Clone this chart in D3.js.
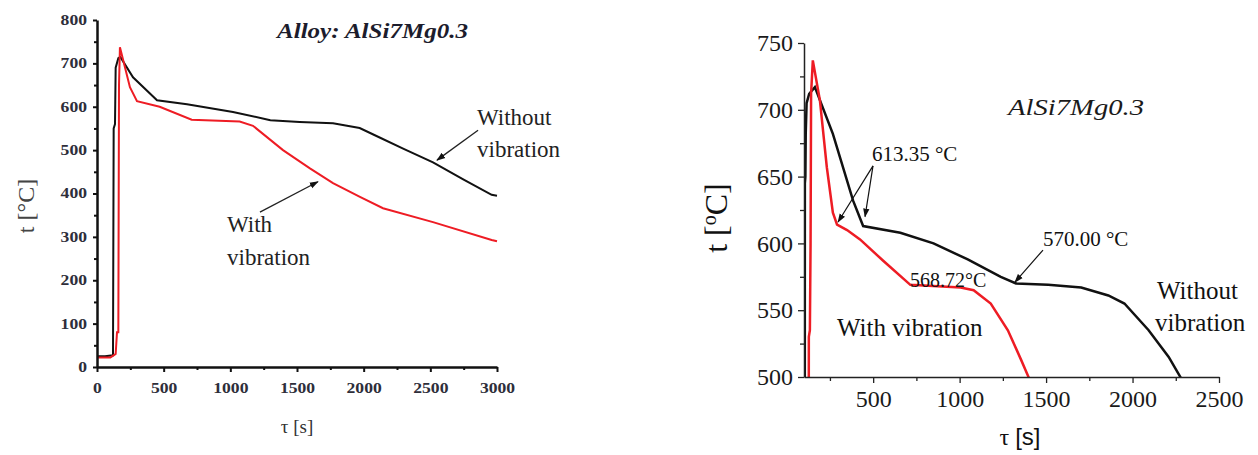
<!DOCTYPE html>
<html>
<head>
<meta charset="utf-8">
<script src="https://cdn.jsdelivr.net/npm/d3@7"></script>
<style>
  html, body { margin: 0; padding: 0; background: #fff; }
  svg { display: block; }
</style>
</head>
<body>
<script>
// ---------------- DATA ----------------
// Left chart: full cooling curves (time s, temperature °C)
const leftTimeNoVib = [0, 60, 120, 125, 135, 140, 160, 175, 270, 450, 675, 1020, 1300, 1520, 1770, 1970, 2100, 2300, 2520, 2750, 2960, 3000];
const leftTempNoVib = [25, 25, 27, 550, 560, 690, 712, 715, 668, 615, 606, 588, 569, 565, 562, 551, 532, 503, 472, 432, 397, 395];
const leftTimeVib   = [0, 100, 130, 140, 150, 160, 165, 172, 182, 247, 300, 470, 710, 1070, 1170, 1395, 1597, 1770, 1972, 2145, 2520, 2960, 3000];
const leftTempVib   = [22, 22, 28, 30, 80, 80, 650, 737, 725, 645, 613, 600, 570, 566, 556, 500, 458, 424, 392, 366, 334, 293, 290];

// Right chart: zoom on solidification range
const rightTimeNoVib = [100, 104, 105, 108, 110, 115, 130, 163, 267, 384, 442, 657, 849, 1047, 1238, 1326, 1512, 1703, 1860, 1953, 2093, 2209, 2290];
const rightTempNoVib = [300, 300, 645, 650, 682, 705, 712, 717, 682, 632, 613, 608, 600, 588, 575, 570, 569, 567, 561, 555, 535, 515, 497];
const rightTimeVib   = [100, 126, 128, 134, 138, 141, 151, 192, 232, 267, 291, 349, 424, 558, 715, 1006, 1081, 1180, 1279, 1355, 1405];
const rightTempVib   = [300, 300, 530, 535, 600, 712, 737, 707, 657, 623, 614, 610, 603, 587, 569, 567, 565, 555, 535, 513, 498];

// Tick values
const leftXTicks = [0, 500, 1000, 1500, 2000, 2500, 3000];
const leftXMinor = [250, 750, 1250, 1750, 2250, 2750];
const leftYTicks = [0, 100, 200, 300, 400, 500, 600, 700, 800];
const leftYMinor = [50, 150, 250, 350, 450, 550, 650, 750];
const rightXTicks = [500, 1000, 1500, 2000, 2500];
const rightXMinor = [250, 750, 1250, 1750, 2250];
const rightYTicks = [500, 550, 600, 650, 700, 750];
const rightYMinor = [525, 575, 625, 675, 725];

// Texts
const leftTitle = "Alloy: AlSi7Mg0.3";
const rightTitle = "AlSi7Mg0.3";

// ---------------- DRAW ----------------
const RED = "#ee1c24", BLACK = "#111";
const SERIF = "Liberation Serif";
const SANS = "Liberation Sans";
const fmt = d3.format("d");

const svg = d3.select("body").append("svg")
  .attr("width", 1258).attr("height", 455)
  .attr("font-family", SERIF);

const defs = svg.append("defs");
function marker(id, size) {
  defs.append("marker").attr("id", id)
    .attr("viewBox", "0 0 10 10").attr("refX", 9).attr("refY", 5)
    .attr("markerWidth", size).attr("markerHeight", size)
    .attr("orient", "auto").attr("markerUnits", "userSpaceOnUse")
    .append("path").attr("d", "M0,1.5 L10,5 L0,8.5 Z").attr("fill", BLACK);
}
marker("arrL", 9);
marker("arrR", 9);

// ===== LEFT CHART =====
const xL = d3.scaleLinear().domain([0, 3000]).range([97, 497]);
const yL = d3.scaleLinear().domain([0, 800]).range([367, 20]);
const gL = svg.append("g");

const lineL = d3.line().x(d => xL(d[0])).y(d => yL(d[1]));
gL.append("path").datum(d3.zip(leftTimeNoVib, leftTempNoVib))
  .attr("d", lineL).attr("fill", "none").attr("stroke", BLACK).attr("stroke-width", 2);
gL.append("path").datum(d3.zip(leftTimeVib, leftTempVib))
  .attr("d", lineL).attr("fill", "none").attr("stroke", RED).attr("stroke-width", 2);

function styleLeftAxis(g) {
  g.attr("font-family", SERIF);
  g.select(".domain").attr("stroke", BLACK).attr("stroke-width", 2.5);
  g.selectAll(".tick line").attr("stroke", BLACK).attr("stroke-width", 2);
  g.selectAll(".tick text")
    .attr("font-family", SERIF)
    .attr("fill", "#2e2e3a").attr("font-weight", "bold")
    .attr("font-size", 14)
    .attr("textLength", d => fmt(d).length * 8.8)
    .attr("lengthAdjust", "spacingAndGlyphs");
}
gL.append("g").attr("transform", `translate(0,${yL(0)})`)
  .call(d3.axisBottom(xL).tickValues(leftXMinor).tickSize(3).tickFormat("").tickSizeOuter(0))
  .call(g => { g.select(".domain").remove(); g.selectAll("line").attr("stroke", BLACK).attr("stroke-width", 2); });
gL.append("g").attr("transform", `translate(0,${yL(0)})`)
  .call(d3.axisBottom(xL).tickValues(leftXTicks).tickFormat(fmt).tickSize(5).tickPadding(11).tickSizeOuter(0))
  .call(styleLeftAxis);
gL.append("g").attr("transform", `translate(${xL(0)},0)`)
  .call(d3.axisLeft(yL).tickValues(leftYMinor).tickSize(3).tickFormat("").tickSizeOuter(0))
  .call(g => { g.select(".domain").remove(); g.selectAll("line").attr("stroke", BLACK).attr("stroke-width", 2); });
gL.append("g").attr("transform", `translate(${xL(0)},0)`)
  .call(d3.axisLeft(yL).tickValues(leftYTicks).tickFormat(fmt).tickSize(4).tickPadding(6).tickSizeOuter(0))
  .call(styleLeftAxis);

// Left title & labels
gL.append("text").attr("x", xL(1350)).attr("y", yL(758)).attr("font-family", SERIF)
  .attr("font-size", 21).attr("font-weight", "bold").attr("font-style", "italic")
  .attr("fill", "#1c1c2c").attr("textLength", 191).attr("lengthAdjust", "spacingAndGlyphs")
  .text(leftTitle);
gL.append("text").attr("transform", "translate(34,206) rotate(-90)").attr("font-family", SERIF)
  .attr("text-anchor", "middle").attr("font-size", 24).attr("fill", "#444")
  .text("t [°C]");
gL.append("text").attr("x", 297).attr("y", 433).attr("text-anchor", "middle").attr("font-family", SERIF)
  .attr("font-size", 19).attr("fill", "#333").text("τ [s]");

// Left annotations
const annL = [
  { lines: ["Without", "vibration"], t: 2850, temps: [557, 484], from: [2858, 546], to: [2550, 477] },
  { lines: ["With", "vibration"], t: 975, temps: [311, 235], from: [1222, 357], to: [1657, 427] }
];
annL.forEach(a => {
  a.lines.forEach((s, i) => {
    gL.append("text").attr("x", xL(a.t)).attr("y", yL(a.temps[i])).attr("font-family", SERIF)
      .attr("font-size", 23).attr("fill", "#222").text(s);
  });
  gL.append("line")
    .attr("x1", xL(a.from[0])).attr("y1", yL(a.from[1]))
    .attr("x2", xL(a.to[0])).attr("y2", yL(a.to[1]))
    .attr("stroke", "#222").attr("stroke-width", 1.3).attr("marker-end", "url(#arrL)");
});

// ===== RIGHT CHART =====
const xR = d3.scaleLinear().domain([100, 2500]).range([804, 1219]);
const yR = d3.scaleLinear().domain([500, 750]).range([377, 43]);
const gR = svg.append("g");

defs.append("clipPath").attr("id", "clipR").append("rect")
  .attr("x", xR(100)).attr("y", yR(750) - 5)
  .attr("width", xR(2500) - xR(100) + 5).attr("height", yR(500) - yR(750) + 5);

const lineR = d3.line().x(d => xR(d[0])).y(d => yR(d[1]));
const plotR = gR.append("g").attr("clip-path", "url(#clipR)");
plotR.append("path").datum(d3.zip(rightTimeNoVib, rightTempNoVib))
  .attr("d", lineR).attr("fill", "none").attr("stroke", BLACK).attr("stroke-width", 2.5);
plotR.append("path").datum(d3.zip(rightTimeVib, rightTempVib))
  .attr("d", lineR).attr("fill", "none").attr("stroke", RED).attr("stroke-width", 2.5);

function styleRightAxis(g) {
  g.attr("font-family", SERIF);
  g.select(".domain").attr("stroke", "#222").attr("stroke-width", 1.5);
  g.selectAll(".tick line").attr("stroke", "#222").attr("stroke-width", 1.3);
  g.selectAll(".tick text").attr("font-family", SERIF).attr("fill", "#1a1a1a").attr("font-size", 24);
}
gR.append("g").attr("transform", `translate(0,${yR(500)})`)
  .call(d3.axisBottom(xR).tickValues(rightXMinor).tickSize(4).tickFormat("").tickSizeOuter(0))
  .call(g => { g.select(".domain").remove(); g.selectAll("line").attr("stroke", "#222").attr("stroke-width", 1.3); });
gR.append("g").attr("transform", `translate(0,${yR(500)})`)
  .call(d3.axisBottom(xR).tickValues(rightXTicks).tickFormat(fmt).tickSize(6).tickPadding(7).tickSizeOuter(0))
  .call(styleRightAxis);
gR.append("g").attr("transform", `translate(${xR(100)},0)`)
  .call(d3.axisLeft(yR).tickValues(rightYMinor).tickSize(4).tickFormat("").tickSizeOuter(0))
  .call(g => { g.select(".domain").remove(); g.selectAll("line").attr("stroke", "#222").attr("stroke-width", 1.3); });
gR.append("g").attr("transform", `translate(${xR(100)},0)`)
  .call(d3.axisLeft(yR).tickValues(rightYTicks).tickFormat(fmt).tickSize(6).tickPadding(5).tickSizeOuter(0))
  .call(styleRightAxis);

// Right title and labels
gR.append("text").attr("x", xR(1280)).attr("y", yR(696)).attr("font-family", SERIF)
  .attr("font-size", 23).attr("font-style", "italic").attr("fill", "#1a1a1a")
  .attr("textLength", 136).attr("lengthAdjust", "spacingAndGlyphs")
  .text(rightTitle);

const yLab = gR.append("text").attr("transform", "translate(727,218) rotate(-90)").attr("font-family", SERIF)
  .attr("text-anchor", "middle").attr("font-size", 32).attr("fill", "#111");
yLab.append("tspan").text("t [");
yLab.append("tspan").attr("font-size", 20).attr("dy", -11).text("o");
yLab.append("tspan").attr("dy", 11).text("C]");

const xLab = gR.append("text").attr("x", 1020).attr("y", 445).attr("text-anchor", "middle").attr("font-family", SERIF)
  .attr("font-size", 24).attr("fill", "#111");
xLab.append("tspan").text("τ ");
xLab.append("tspan").attr("font-family", SANS).text("[s]");

// Right annotations
const annR = [
  { text: "613.35 °C", t: 493, temp: 661.5, size: 21, arrows: [[[499, 658], [297, 616]], [[499, 658], [453, 620]]] },
  { text: "568.72°C", t: 713, temp: 567.4, size: 20, arrows: [] },
  { text: "570.00 °C", t: 1482, temp: 598, size: 21, arrows: [[[1482, 595], [1320, 571]]] },
  { text: "With vibration", t: 291, temp: 530.5, size: 25, arrows: [] },
  { text: "Without", t: 2141, temp: 558.4, size: 25, arrows: [] },
  { text: "vibration", t: 2130, temp: 534.4, size: 25, arrows: [] }
];
annR.forEach(a => {
  gR.append("text").attr("x", xR(a.t)).attr("y", yR(a.temp)).attr("font-family", SERIF)
    .attr("font-size", a.size).attr("fill", "#111").text(a.text);
  a.arrows.forEach(ar => {
    gR.append("line")
      .attr("x1", xR(ar[0][0])).attr("y1", yR(ar[0][1]))
      .attr("x2", xR(ar[1][0])).attr("y2", yR(ar[1][1]))
      .attr("stroke", "#111").attr("stroke-width", 1.2).attr("marker-end", "url(#arrR)");
  });
});
</script>
</body>
</html>
